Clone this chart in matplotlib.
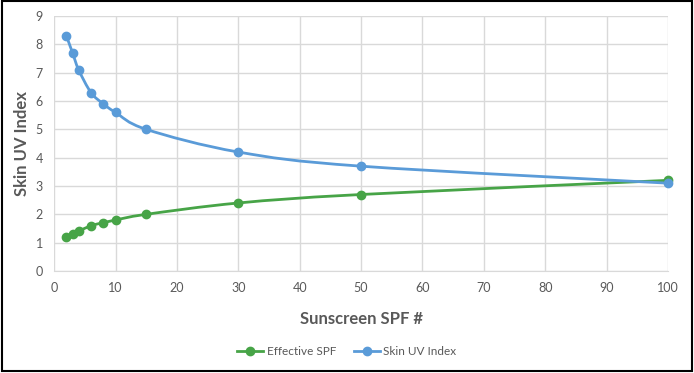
import numpy as np
import matplotlib
matplotlib.use("Agg")
import matplotlib.pyplot as plt
from matplotlib.path import Path
from matplotlib.patches import PathPatch, Rectangle
from matplotlib.lines import Line2D

spf = [2, 3, 4, 6, 8, 10, 15, 30, 50, 100]
effective_spf = [1.2, 1.3, 1.4, 1.6, 1.7, 1.8, 2.0, 2.4, 2.7, 3.2]
skin_uv = [8.3, 7.7, 7.1, 6.3, 5.9, 5.6, 5.0, 4.2, 3.7, 3.1]

green = '#47A447'
blue = '#5A9BD8'
grey = '#595959'

plt.rcParams['font.family'] = ['Lato', 'DejaVu Sans']


def smooth_path(ax, xs, ys):
    # Excel style smoothing: cubic bezier segments, control points in display space
    pts = ax.transData.transform(np.column_stack([xs, ys]))
    n = len(pts)
    verts = [pts[0]]
    codes = [Path.MOVETO]
    for i in range(n - 1):
        p0 = pts[i - 1] if i > 0 else pts[i]
        p1 = pts[i]
        p2 = pts[i + 1]
        p3 = pts[i + 2] if i + 2 < n else pts[i + 1]
        c1 = p1 + (p2 - p0) / 6.0
        c2 = p2 - (p3 - p1) / 6.0
        verts += [c1, c2, p2]
        codes += [Path.CURVE4] * 3
    return Path(verts, codes)


fig = plt.figure(figsize=(6.94, 3.73), dpi=100)
ax = fig.add_axes([0.078, 0.2735, 0.8845, 0.6835])
ax.set_xlim(0, 100)
ax.set_ylim(0, 9)
ax.set_xticks(range(0, 101, 10))
ax.set_yticks(range(0, 10))
ax.grid(True, color='#D9D9D9', linewidth=1)
ax.set_axisbelow(True)
for s in ['top', 'right', 'left']:
    ax.spines[s].set_visible(False)
ax.spines['bottom'].set_color('#D9D9D9')
ax.tick_params(length=0, labelsize=9, labelcolor=grey, pad=8)

fig.canvas.draw()
for ys, col in [(effective_spf, green), (skin_uv, blue)]:
    p = smooth_path(ax, spf, ys)
    ax.add_patch(PathPatch(p, transform=None, facecolor='none', edgecolor=col, linewidth=2, zorder=3))
    ax.plot(spf, ys, linestyle='none', marker='o', markersize=6, color=col, zorder=4, clip_on=False)

ax.set_xlabel('Sunscreen SPF #', fontsize=12, fontweight='bold', color=grey, labelpad=12)
ax.set_ylabel('Skin UV Index', fontsize=12, fontweight='bold', color=grey, labelpad=4)

handles = [Line2D([], [], color=green, lw=2, marker='o', markersize=6),
           Line2D([], [], color=blue, lw=2, marker='o', markersize=6)]
fig.legend(handles, ['Effective SPF', 'Skin UV Index'], loc='center', bbox_to_anchor=(0.5, 0.058),
           ncol=2, frameon=False, fontsize=8.5, labelcolor=grey, handlelength=2.2,
           handletextpad=0.3, columnspacing=1.5)

fig.patches.append(Rectangle((0.003, 0.006), 0.994, 0.99, transform=fig.transFigure,
                             fill=False, edgecolor='black', linewidth=1.5))

fig.savefig('out.png', dpi=100)
